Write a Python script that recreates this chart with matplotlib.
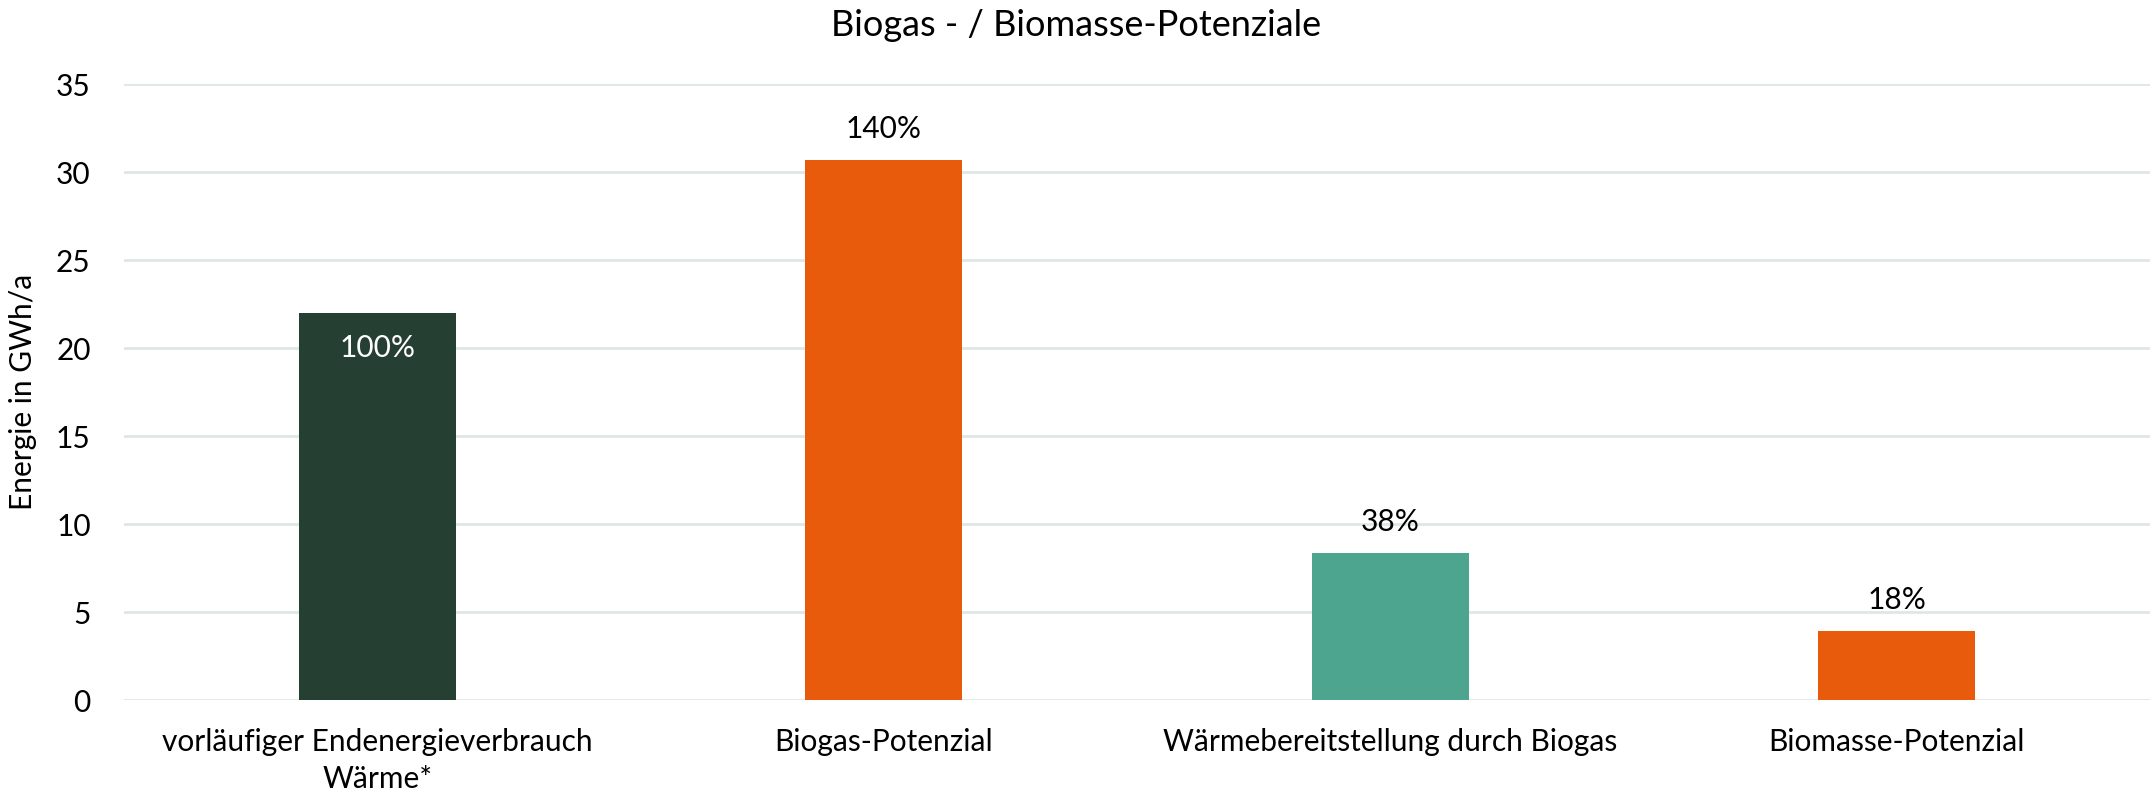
import matplotlib
matplotlib.use("Agg")
import matplotlib.pyplot as plt

categories = ["vorläufiger Endenergieverbrauch\nWärme*", "Biogas-Potenzial",
              "Wärmebereitstellung durch Biogas", "Biomasse-Potenzial"]
values = [22.0, 30.7, 8.35, 3.9]
labels = ["100%", "140%", "38%", "18%"]
colors = ["#263F33", "#E95B0C", "#4DA590", "#E95B0C"]
yticks = [0, 5, 10, 15, 20, 25, 30, 35]

plt.rcParams['font.family'] = ['Lato', 'DejaVu Sans']
fs = 21.5

fig = plt.figure(figsize=(21.53, 7.92), dpi=100)
ax = fig.add_axes([124/2153, 1-700/792, (2150-124)/2153, (700-84)/792])
x = range(len(categories))
bars = ax.bar(x, values, width=0.31, color=colors, zorder=3)
ax.set_xlim(-0.5, 3.5)
ax.set_ylim(0, 35)
ax.set_yticks(yticks)
ax.set_yticklabels([str(t) for t in yticks], fontsize=fs)
ax.set_xticks(list(x))
ax.set_xticklabels(categories, fontsize=fs, linespacing=1.4)
ax.tick_params(axis='both', length=0)
ax.tick_params(axis='y', pad=24)
ax.tick_params(axis='x', pad=20)
ax.grid(axis='y', color='#DDE8E5', linewidth=2, zorder=0)
for s in ax.spines.values():
    s.set_visible(False)
ax.set_ylabel("Energie in GWh/a", fontsize=fs)
ax.yaxis.set_label_coords(-0.043, 0.5)

for i, (b, lab) in enumerate(zip(bars, labels)):
    h = b.get_height()
    if i == 0:
        ax.annotate(lab, (b.get_x()+b.get_width()/2, h), xytext=(0, -35),
                    textcoords='offset pixels', ha='center', va='center',
                    fontsize=fs, color='white', zorder=4)
    else:
        ax.annotate(lab, (b.get_x()+b.get_width()/2, h), xytext=(0, 31),
                    textcoords='offset pixels', ha='center', va='center',
                    fontsize=fs, color='black', zorder=4)

fig.text(0.5, 1-25/792, "Biogas - / Biomasse-Potenziale", ha='center', va='center', fontsize=26)
fig.savefig("out.png", dpi=100)
